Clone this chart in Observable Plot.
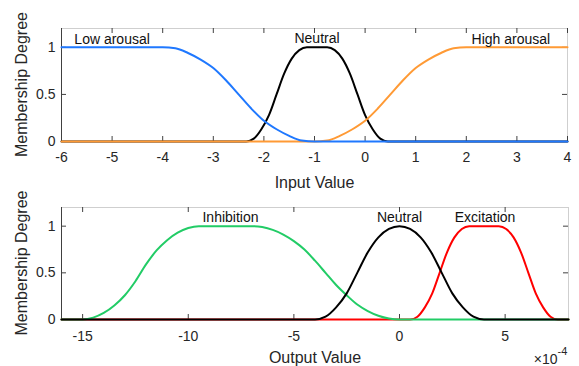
<!DOCTYPE html>
<html><head><meta charset="utf-8">
<script src="https://cdn.jsdelivr.net/npm/d3@7"></script>
<script src="https://cdn.jsdelivr.net/npm/@observablehq/plot@0.6"></script>
<style>
body{margin:0;background:#fff;}
#chart{width:579px;height:366px;}
svg{display:block;}
</style></head><body><div id="chart"></div>
<script>
// ---- Top panel data (input) ----
const inputTicks = [-6,-5,-4,-3,-2,-1,0,1,2,3,4];
const yTicks = [0, 0.5, 1];
const lowX  = [-6,-4,-3.75,-3.5,-3.25,-3,-2.75,-2.5,-2.25,-2,-1.75,-1.5,-1.25,-1,4];
const lowY  = [1,1,0.99,0.94,0.87,0.78,0.65,0.5,0.35,0.22,0.13,0.06,0.01,0,0];
const highX = [-6,-1,-0.75,-0.5,-0.25,0,0.25,0.5,0.75,1,1.25,1.5,1.75,2,4];
const highY = [0,0,0.01,0.06,0.13,0.22,0.35,0.5,0.65,0.78,0.87,0.94,0.99,1,1];
const neuInX = [-6,-2.35,-2.2,-2.05,-1.9,-1.75,-1.6,-1.45,-1.3,-1.15,-0.75,-0.6,-0.45,-0.3,-0.15,0,0.15,0.3,0.45,4];
const neuInY = [0,0,0.03,0.13,0.28,0.5,0.72,0.88,0.97,1,1,0.97,0.88,0.72,0.5,0.28,0.13,0.03,0,0];
const inputLabels = [
  {x:-5.0, y:1.085, t:"Low arousal"},
  {x:-0.95, y:1.09, t:"Neutral"},
  {x:2.88, y:1.085, t:"High arousal"}
];
// ---- Bottom panel data (output, x 1e-4) ----
const outputTicks = [-15,-10,-5,0,5];
const inhX = [-16,-15,-14.5,-14,-13.5,-13,-12.5,-12,-11.5,-11,-10.5,-10,-9.5,-7,-6.5,-6,-5.5,-5,-4.5,-4,-3.5,-3,-2.5,-2,-1.5,-1,-0.5,0,8];
const inhY = [0,0,0.02,0.07,0.15,0.26,0.41,0.59,0.74,0.85,0.93,0.98,1,1,0.99,0.96,0.91,0.84,0.75,0.63,0.5,0.37,0.26,0.16,0.09,0.04,0.01,0,0];
const neuOutX = [-16,-4,-3.5,-3,-2.5,-2,-1.5,-1,-0.5,0,0.5,1,1.5,2,2.5,3,3.5,4,8];
const neuOutY = [0,0,0.03,0.13,0.28,0.5,0.72,0.88,0.97,1,0.97,0.88,0.72,0.5,0.28,0.13,0.03,0,0];
const excX = [-16,0.5,0.85,1.2,1.55,1.9,2.25,2.6,2.95,3.3,4.7,5.05,5.4,5.75,6.1,6.45,6.8,7.15,7.5,8];
const excY = [0,0,0.03,0.13,0.28,0.5,0.72,0.88,0.97,1,1,0.97,0.88,0.72,0.5,0.28,0.13,0.03,0,0];
const outputLabels = [
  {x:-8, y:1.09, t:"Inhibition"},
  {x:0, y:1.09, t:"Neutral"},
  {x:4.05, y:1.09, t:"Excitation"}
];

const FONT = "'Liberation Sans', Arial, Helvetica, sans-serif";
const TXT = "#262626";

function panel(o) {
  const fh = o.height - o.mt - o.mb;
  const fw = o.width - o.ml - o.mr;
  const [x0, x1] = o.xDomain;
  const marks = [
    Plot.ruleY([1.2], {stroke:"#cfcfcf"}),
    Plot.ruleX([x1], {stroke:"#cfcfcf"}),
    Plot.ruleX([x0], {stroke:"#404040"}),
    Plot.ruleY([0], {stroke:"#404040"}),
    Plot.tickX(o.xTicks, {x:d=>d, insetTop: fh-5, stroke:"#404040"}),
    Plot.tickX(o.xTicks, {x:d=>d, insetBottom: fh-5, stroke:"#404040"}),
    Plot.tickY(yTicks, {y:d=>d, insetRight: fw-5, stroke:"#404040"}),
    Plot.tickY(yTicks, {y:d=>d, insetLeft: fw-5, stroke:"#404040"}),
    Plot.text(o.xTicks, {x:d=>d, frameAnchor:"bottom", dy:o.tickDy, text:d=>String(d), fill:TXT, fontSize:14, lineAnchor:"middle"}),
    Plot.text(yTicks, {y:d=>d, frameAnchor:"left", dx:-6, text:d=>String(d), textAnchor:"end", fill:TXT, fontSize:14}),
    Plot.text([o.xLabel], {frameAnchor:"bottom", dy:o.labelDy, text:d=>d, fill:TXT, fontSize:16, lineAnchor:"middle"}),
    ...o.series.map(s => Plot.line(s.x.map((x,i)=>({x, y:s.y[i]})), {x:"x", y:"y", stroke:s.color, strokeWidth:2, curve:"monotone-x"})),
    Plot.text(o.labels, {x:"x", y:"y", text:"t", fill:"#111", fontSize:14})
  ];
  if (o.extra) marks.push(...o.extra);
  const svg = Plot.plot({
    width:o.width, height:o.height,
    marginTop:o.mt, marginBottom:o.mb, marginLeft:o.ml, marginRight:o.mr,
    x:{domain:o.xDomain, axis:null},
    y:{domain:[0,1.2], axis:null},
    style:{fontFamily:FONT, fontSize:"14px", background:"#fff", overflow:"visible"},
    marks
  });
  // rotated y-axis title, centred on the frame
  d3.select(svg).append("text")
    .attr("transform", `translate(21,${o.mt + fh/2}) rotate(-90)`)
    .attr("text-anchor", "middle")
    .attr("dominant-baseline", "central")
    .attr("fill", TXT)
    .style("font-size", "16px")
    .text("Membership Degree");
  return svg;
}

const topPanel = panel({
  width:579, height:190, mt:28, mb:49, ml:61, mr:12,
  xDomain:[-6,4], xTicks:inputTicks, tickDy:16.5, labelDy:41, xLabel:"Input Value",
  series:[
    {x:neuInX, y:neuInY, color:"#000000"},
    {x:highX, y:highY, color:"#ff9a35"},
    {x:lowX, y:lowY, color:"#1f78ff"}
  ],
  labels: inputLabels
});
const bottomPanel = panel({
  width:579, height:176, mt:17, mb:47, ml:61, mr:11,
  xDomain:[-16,8], xTicks:outputTicks, tickDy:17.5, labelDy:38, xLabel:"Output Value",
  series:[
    {x:excX, y:excY, color:"#ff0000"},
    {x:inhX, y:inhY, color:"#22cc66"},
    {x:neuOutX, y:neuOutY, color:"#000000"}
  ],
  labels: outputLabels,
  extra:[
    Plot.text(["\u00d710"], {frameAnchor:"bottom-right", dx:-11, dy:40, text:d=>d, textAnchor:"end", fill:TXT, fontSize:14, lineAnchor:"middle"}),
    Plot.text(["-4"], {frameAnchor:"bottom-right", dx:-11, dy:32, text:d=>d, textAnchor:"start", fill:TXT, fontSize:11, lineAnchor:"middle"})
  ]
});
document.getElementById("chart").append(topPanel, bottomPanel);
</script></body></html>
